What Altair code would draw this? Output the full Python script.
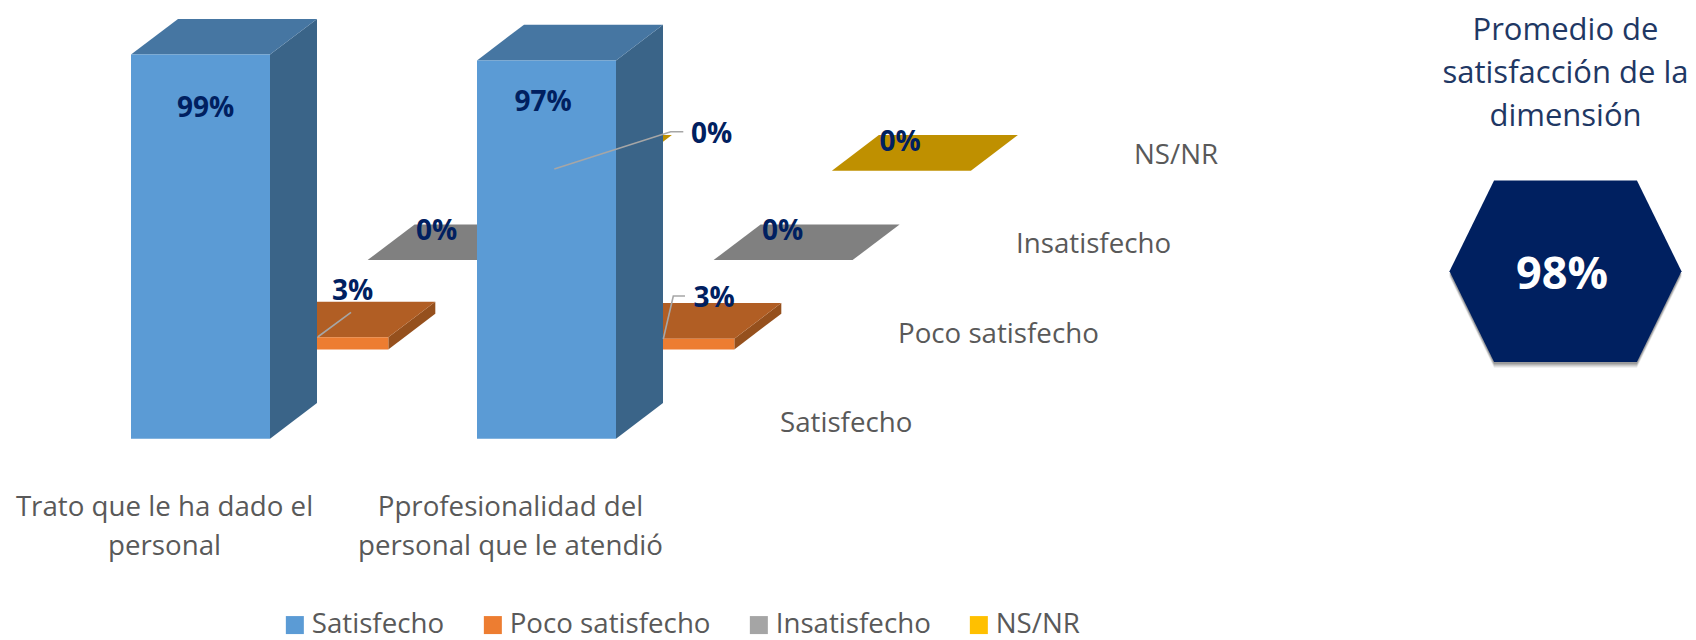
import altair as alt
import pandas as pd

categories = ["Trato que le ha dado el personal", "Pprofesionalidad del personal que le atendió"]
series = ["Satisfecho", "Poco satisfecho", "Insatisfecho", "NS/NR"]
satisfecho = [99.0, 97.5]
poco = [3.1, 2.75]
insatisfecho = [0.0, 0.0]
nsnr = [0.0, 0.0]
shown_labels = [["99%", "97%"], ["3%", "3%"], ["0%", "0%"], ["0%", "0%"]]
average_label = "98%"
title_lines = ["Promedio de", "satisfacción de la", "dimensión"]
category_lines = [["Trato que le ha dado el", "personal"], ["Pprofesionalidad del", "personal que le atendió"]]

front_colors = ["#5B9BD5", "#ED7D31", "#A5A5A5", "#FFC000"]
side_colors = ["#3A6488", "#95501D", "#636363", "#997300"]
top_colors = ["#4676A2", "#B15E24", "#808080", "#BF9000"]

# projection of the 3-D bars on the page
X0, Y0, BAR_W, PX = 131.0, 438.7, 139.0, 3.88
CAT_DX, SER_DX, SER_DY, DEPTH_X, DEPTH_Y = 346.0, 118.3, 89.3, 47.0, 35.7
W, H = 1680, 632
xs = alt.Scale(domain=[8, 8 + W], range=[0, W], nice=False, zero=False)
ys = alt.Scale(domain=[8 + H, 8], range=[H, 0], nice=False, zero=False)
X = lambda f: alt.X(f, type="quantitative", scale=xs, axis=None, title=None)
Y = lambda f: alt.Y(f, type="quantitative", scale=ys, axis=None, title=None)

values = [satisfecho, poco, insatisfecho, nsnr]
front, side, top = [], [], []
for j, s in enumerate(series):
    for i, c in enumerate(categories):
        v = values[j][i]
        l = X0 + i * CAT_DX + j * SER_DX
        r = l + BAR_W
        b = Y0 - j * SER_DY
        t = b - v * PX
        front.append(dict(series=s, cat=c, l=l, r=r, b=b, t=t, j=j))
        side.append(dict(series=s, cat=c, x=r, yt=t, yb=b, j=j))
        side.append(dict(series=s, cat=c, x=r + DEPTH_X, yt=t - DEPTH_Y, yb=b - DEPTH_Y, j=j))
        top.append(dict(series=s, cat=c, y=t - DEPTH_Y, xl=l + DEPTH_X, xr=r + DEPTH_X, j=j))
        top.append(dict(series=s, cat=c, y=t, xl=l, xr=r, j=j))
front, side, top = map(pd.DataFrame, (front, side, top))

layers = []
for j in [3, 2, 1, 0]:
    layers.append(alt.Chart(side[side.j == j]).mark_area(orient="vertical", interpolate="linear").encode(
        x=X("x"), y=Y("yt"), y2="yb", detail="cat:N", color=alt.value(side_colors[j])))
    layers.append(alt.Chart(top[top.j == j]).mark_area(orient="horizontal", interpolate="linear").encode(
        y=Y("y"), x=X("xl"), x2="xr", detail="cat:N", color=alt.value(top_colors[j])))
    layers.append(alt.Chart(front[front.j == j]).mark_rect().encode(
        x=X("l"), x2="r", y=Y("t"), y2="b",
        color=alt.Color("series:N", sort=series,
                        scale=alt.Scale(domain=series, range=front_colors),
                        legend=alt.Legend(orient="none", legendX=273, legendY=603, direction="horizontal",
                                          columns=4, title=None, symbolType="square", symbolSize=324,
                                          symbolStrokeWidth=0, labelFont="Open Sans", labelFontSize=27.7,
                                          labelColor="#595959", labelOffset=3, columnPadding=34,
                                          labelLimit=400, padding=0))))

# leader lines
leaders = pd.DataFrame([
    dict(k="a", n=0, x=317.7, y=337.0), dict(k="a", n=1, x=351.0, y=312.3),
    dict(k="b", n=0, x=554.3, y=169.0), dict(k="b", n=1, x=670.7, y=131.7), dict(k="b", n=2, x=683.3, y=131.7),
    dict(k="c", n=0, x=663.3, y=339.0), dict(k="c", n=1, x=673.3, y=296.0), dict(k="c", n=2, x=685.0, y=296.0),
])
layers.append(alt.Chart(leaders).mark_line(color="#A6A6A6", strokeWidth=1.6).encode(
    x=X("x"), y=Y("y"), detail="k:N", order="n:Q"))

# value labels
lab = pd.DataFrame([
    dict(x=205.5, y=108.5, t=shown_labels[0][0]), dict(x=543, y=103, t=shown_labels[0][1]),
    dict(x=352.5, y=292, t=shown_labels[1][0]), dict(x=714, y=299, t=shown_labels[1][1]),
    dict(x=436.5, y=232, t=shown_labels[2][0]), dict(x=782.5, y=231.7, t=shown_labels[2][1]),
    dict(x=711.5, y=135, t=shown_labels[3][0]), dict(x=900, y=142.7, t=shown_labels[3][1]),
])
layers.append(alt.Chart(lab).mark_text(font="Open Sans", fontSize=28, fontWeight="bold", color="#002060",
                                       baseline="middle", align="center").encode(x=X("x"), y=Y("y"), text="t:N"))

# category axis labels
cat_rows = []
for i, lines in enumerate(category_lines):
    for n, t in enumerate(lines):
        cat_rows.append(dict(x=164.5 + i * CAT_DX, y=507.5 + n * 39, t=t))
layers.append(alt.Chart(pd.DataFrame(cat_rows)).mark_text(font="Open Sans", fontSize=27.7, color="#595959",
                                                          baseline="middle", align="center").encode(
    x=X("x"), y=Y("y"), text="t:N"))

# series axis labels
ser_rows = [dict(x=780 + j * 118, y=424 - j * 89.3, t=s) for j, s in enumerate(series)]
layers.append(alt.Chart(pd.DataFrame(ser_rows)).mark_text(font="Open Sans", fontSize=27.7, color="#595959",
                                                          baseline="middle", align="left").encode(
    x=X("x"), y=Y("y"), text="t:N"))

# side panel
hex_path = "M-1,0 L-0.616,-0.782 L0.616,-0.782 L1,0 L0.616,0.782 L-0.616,0.782 Z"
for dy, op in [(6, 0.05), (5, 0.07), (4, 0.09), (3, 0.11), (2, 0.13)]:
    layers.append(alt.Chart(pd.DataFrame([dict(x=1565.5, y=271.3 + dy)])).mark_point(
        shape=hex_path, size=232 ** 2, filled=True, color="#000000", opacity=op, strokeWidth=0).encode(
        x=X("x"), y=Y("y")))
layers.append(alt.Chart(pd.DataFrame([dict(x=1565.5, y=271.3)])).mark_point(
    shape=hex_path, size=232 ** 2, filled=True, color="#002060", opacity=1, strokeWidth=0).encode(
    x=X("x"), y=Y("y")))
layers.append(alt.Chart(pd.DataFrame([dict(x=1562, y=275, t=average_label)])).mark_text(
    font="Open Sans", fontSize=45, fontWeight="bold", color="#FFFFFF", baseline="middle", align="center").encode(
    x=X("x"), y=Y("y"), text="t:N"))
title_rows = [dict(x=1565.5, y=31 + n * 43, t=t) for n, t in enumerate(title_lines)]
layers.append(alt.Chart(pd.DataFrame(title_rows)).mark_text(
    font="Open Sans", fontSize=31, color="#1F3864", baseline="middle", align="center").encode(
    x=X("x"), y=Y("y"), text="t:N"))

chart = alt.layer(*layers).properties(
    width=W, height=H, padding=0, autosize=alt.AutoSizeParams(type="none"),
    background="white",
).configure_view(stroke=None)

chart.save("out.html", embed_options={"renderer": "svg", "actions": False})
